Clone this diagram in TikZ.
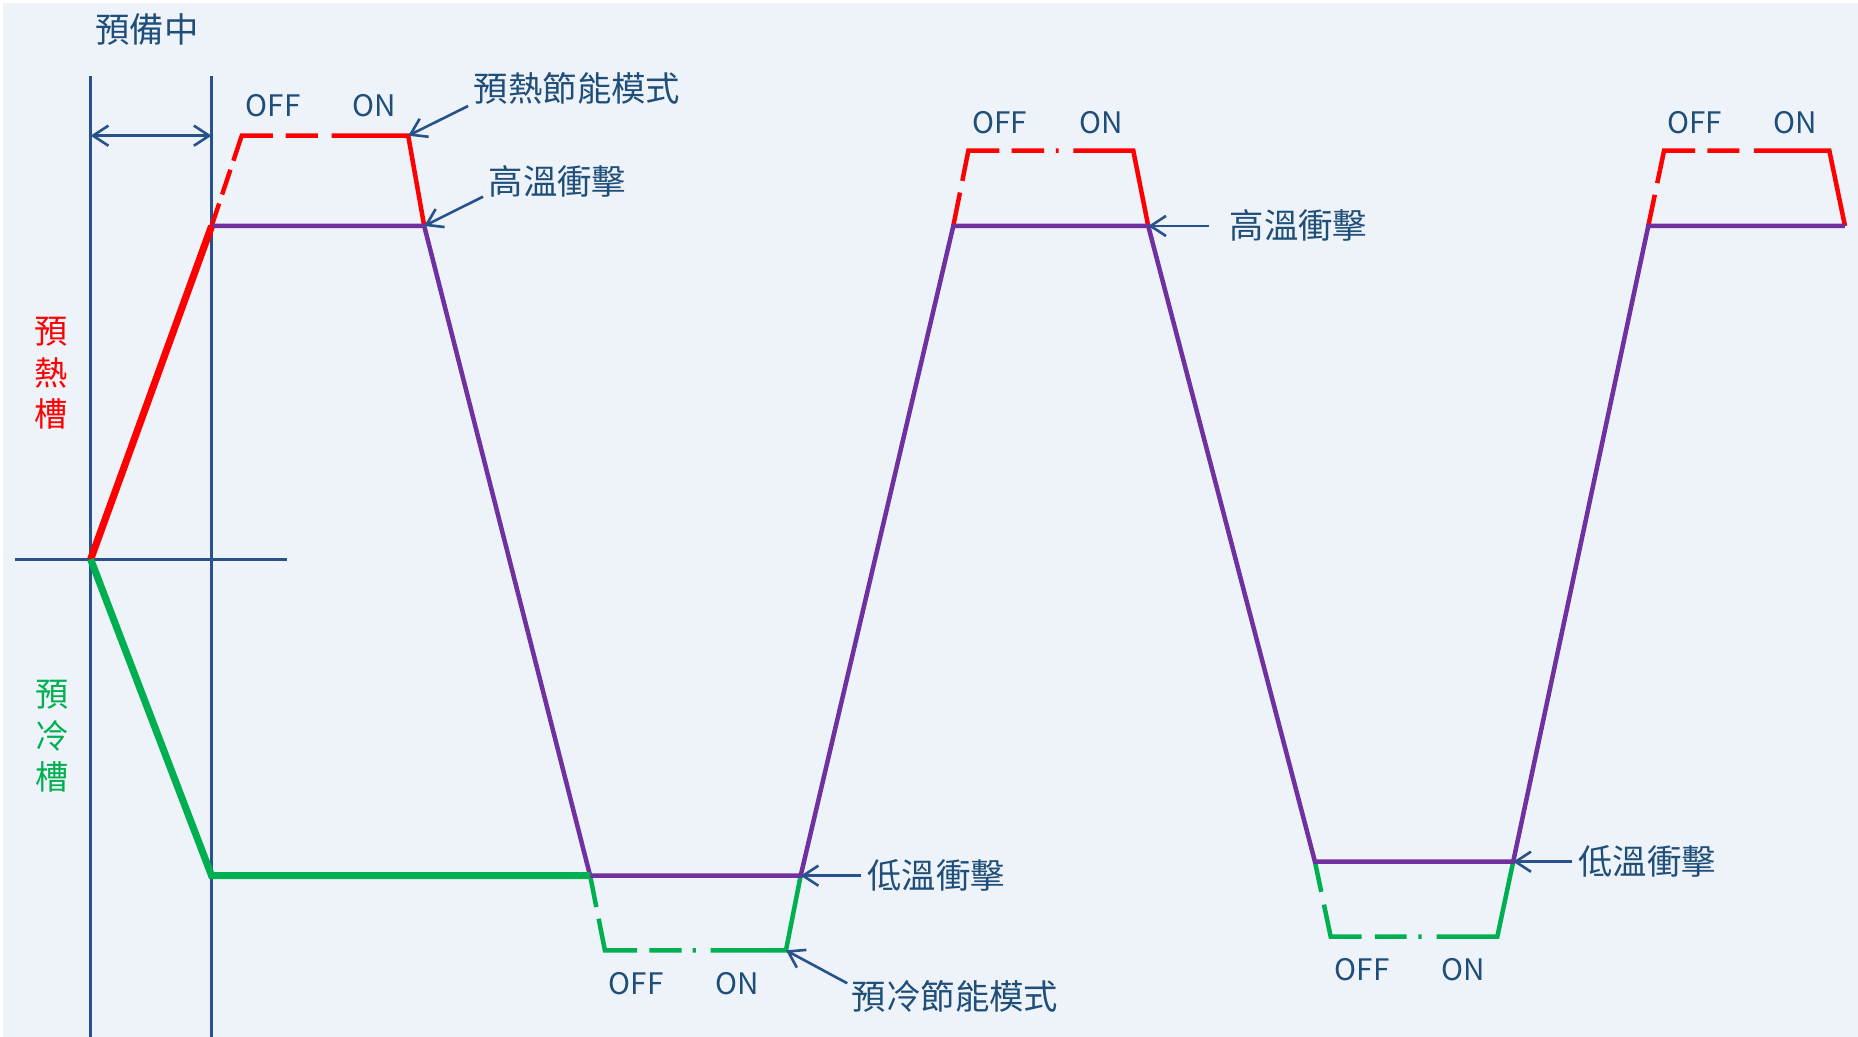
\documentclass[tikz,border=0pt]{standalone}
\usepackage{fontspec}
\setmainfont{Noto Sans CJK TC}
\usetikzlibrary{arrows.meta}
\definecolor{bgc}{RGB}{238,243,250}
\definecolor{txtc}{RGB}{31,78,121}
\definecolor{axc}{RGB}{40,82,140}
\definecolor{redc}{RGB}{255,0,0}
\definecolor{grnc}{RGB}{0,176,80}
\definecolor{purc}{RGB}{112,48,160}
\begin{document}
\begin{tikzpicture}[x=1pt,y=-1pt,
  lbl/.style={inner sep=0pt, text=txtc, font=\fontsize{29}{34}\selectfont},
  onoff/.style={inner sep=0pt, text=txtc, font=\fontsize{25}{30}\selectfont},
  vlbl/.style={inner sep=0pt, align=center, font=\fontsize{28}{35}\selectfont},
  axisline/.style={draw=axc, line width=2.3pt},
  ptr/.style={draw=axc, line width=2.2pt, -{Straight Barb[length=13pt,width=17pt]}},
  dblptr/.style={draw=axc, line width=2.2pt, {Straight Barb[length=13pt,width=17pt]}-{Straight Barb[length=13pt,width=17pt]}},
  purline/.style={draw=purc, line width=3.8pt},
  redline/.style={draw=redc, line width=3.8pt},
  grnline/.style={draw=grnc, line width=3.8pt},
  thickred/.style={draw=redc, line width=6pt},
  thickgrn/.style={draw=grnc, line width=6pt, line join=miter}
]
\useasboundingbox (0,0) rectangle (1568,875);
\fill[white] (0,0) rectangle (1568,875);
\fill[bgc] (2.5,2.5) rectangle (1568,875);

% axes
\coordinate (O) at (76.5,472);
\coordinate (V1t) at (76.5,64);   \coordinate (V1b) at (76.5,875);
\coordinate (V2t) at (178.6,64);  \coordinate (V2b) at (178.6,875);
\coordinate (Hl) at (12.7,472);   \coordinate (Hr) at (242.5,472);
\coordinate (A1) at (76.5,114.5); \coordinate (A2) at (178.6,114.5);
\draw[axisline] (V1t) -- (V1b);
\draw[axisline] (V2t) -- (V2b);
\draw[axisline] (Hl) -- (Hr);
\draw[dblptr] (A1) -- (A2);

% key points
\coordinate (P1) at (178.6,190.7);
\coordinate (R1tl) at (204,114.5);
\coordinate (R1m) at (279.9,114.5);
\coordinate (R1tr) at (344.5,114.5);
\coordinate (P2) at (358,190.7);
\coordinate (P3) at (498,739);
\coordinate (G1bl) at (510.5,802);
\coordinate (G1m) at (599.7,802);
\coordinate (G1br) at (663.3,802);
\coordinate (P4) at (675.7,739);
\coordinate (P5) at (804.5,190.7);
\coordinate (R2tl) at (817.2,127.2);
\coordinate (R2m) at (905.8,127.2);
\coordinate (R2tr) at (956.4,127.2);
\coordinate (P6) at (969,190.7);
\coordinate (P7) at (1109.7,727.2);
\coordinate (G2bl) at (1123,790.5);
\coordinate (G2m) at (1212.4,790.5);
\coordinate (G2br) at (1263.6,790.5);
\coordinate (P8) at (1277,727.2);
\coordinate (P9) at (1391,190.7);
\coordinate (R3tl) at (1404.3,127.2);
\coordinate (R3m) at (1480.2,127.2);
\coordinate (R3tr) at (1543.8,127.2);
\coordinate (P10) at (1557,190.7);
\coordinate (G0) at (178.6,739);

% red energy-saving trapezoids
\draw[redline, dash pattern=on 20pt off 8pt on 22pt off 8pt on 48.7pt off 10.7pt on 27.2pt off 20pt] (P1) -- (R1tl) -- (R1m);
\draw[redline] (R1m) -- (R1tr) -- (P2);
\draw[redline, dash pattern=on 28.8pt off 10pt on 52.2pt off 10.3pt on 27.3pt off 10.1pt on 2.3pt off 20pt] (P5) -- (R2tl) -- (R2m);
\draw[redline] (R2m) -- (R2tr) -- (P6);
\draw[redline, dash pattern=on 26.9pt off 10pt on 54.2pt off 10.3pt on 27pt off 20pt] (P9) -- (R3tl) -- (R3m);
\draw[redline] (R3m) -- (R3tr) -- (P10);

% green energy-saving trapezoids
\draw[grnline, dash pattern=on 27pt off 10pt on 54.5pt off 10.2pt on 27.3pt off 9.3pt on 2.7pt off 20pt] (P3) -- (G1bl) -- (G1m);
\draw[grnline] (G1m) -- (G1br) -- (P4);
\draw[grnline, dash pattern=on 26pt off 11pt on 53.8pt off 11.2pt on 26.8pt off 9.8pt on 2.8pt off 20pt] (P7) -- (G2bl) -- (G2m);
\draw[grnline] (G2m) -- (G2br) -- (P8);

% purple test profile
\draw[purline] (P1) -- (P2) -- (P3) -- (P4) -- (P5) -- (P6) -- (P7) -- (P8) -- (P9) -- (P10);

% standby ramps
\draw[thickred] (O) -- (P1);
\draw[thickgrn] (O) -- (G0) -- (P3);

% labels
\node[lbl] (prep) at (124,24.6) {預備中};
\node[onoff] (off1) at (230.6,89) {OFF};
\node[onoff] (on1) at (315.7,89) {ON};
\node[lbl] (heatsave) at (487,75) {預熱節能模式};
\node[lbl] (hot1) at (470.5,153) {高溫衝擊};
\node[onoff] (off2) at (843.5,103.6) {OFF};
\node[onoff] (on2) at (929,103.6) {ON};
\node[lbl] (hot2) at (1095.7,190.6) {高溫衝擊};
\node[onoff] (off3) at (1430,103.6) {OFF};
\node[onoff] (on3) at (1515,103.6) {ON};
\node[lbl] (cold1) at (790,739) {低溫衝擊};
\node[lbl] (coolsave) at (806,841) {預冷節能模式};
\node[onoff] (off4) at (537,830.5) {OFF};
\node[onoff] (on4) at (622,830.5) {ON};
\node[lbl] (cold2) at (1390,726.5) {低溫衝擊};
\node[onoff] (off5) at (1149.5,818) {OFF};
\node[onoff] (on5) at (1234.5,818) {ON};
\node[vlbl, text=redc] (heattank) at (43.4,315) {預\\熱\\槽};
\node[vlbl, text=grnc] (cooltank) at (43.6,621.5) {預\\冷\\槽};

% pointer arrows
\coordinate (hs0) at (395,89.5);
\coordinate (h10) at (407.6,166);
\coordinate (h20) at (1020.5,190.7);
\coordinate (c10) at (727,739);
\coordinate (cs0) at (715,829.8);
\coordinate (c20) at (1327,727.2);
\draw[ptr] (hs0) -- (R1tr);
\draw[ptr] (h10) -- (P2);
\draw[ptr] (h20) -- (P6);
\draw[ptr] (c10) -- (P4);
\draw[ptr] (cs0) -- (G1br);
\draw[ptr] (c20) -- (P8);
\end{tikzpicture}
\end{document}
